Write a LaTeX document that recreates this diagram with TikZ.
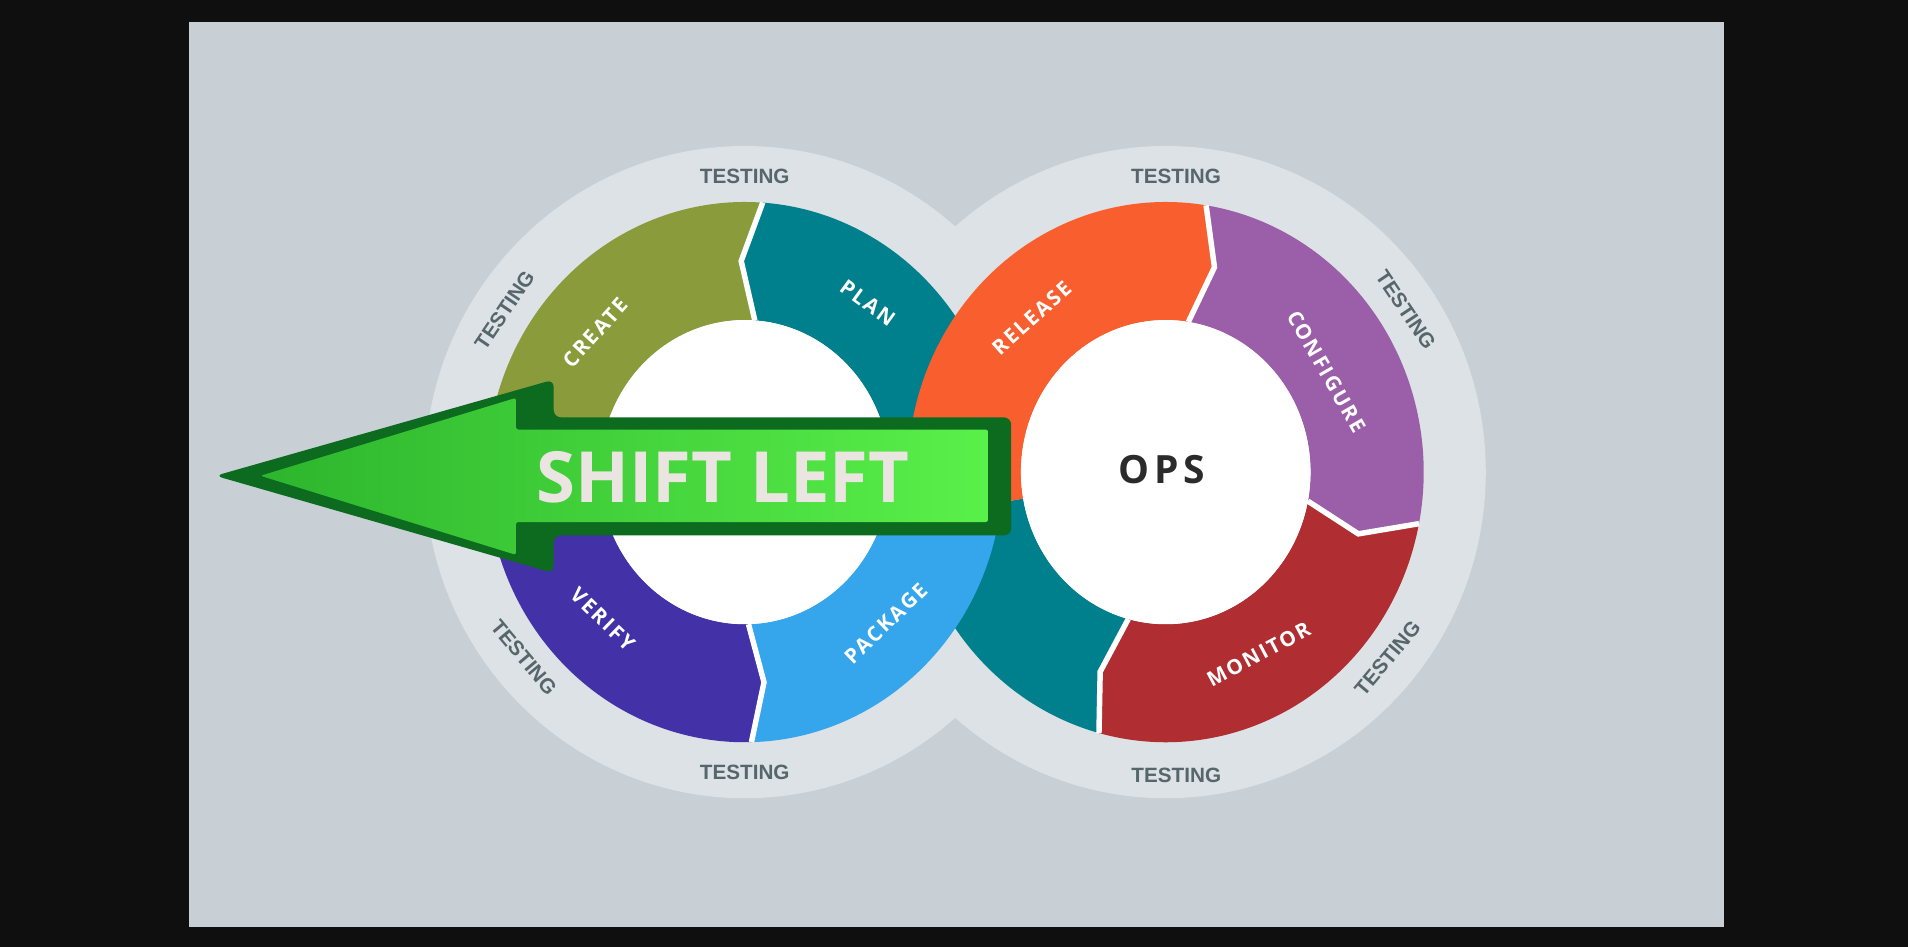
\documentclass[tikz,border=0pt]{standalone}
\usepackage{fontspec}
\usetikzlibrary{calc}
\setmainfont{Liberation Sans}
\newfontfamily\segfont{Open Sans}[LetterSpace=10]
\newfontfamily\opsfont{Open Sans}[LetterSpace=12]
\newfontfamily\bigfont{Open Sans}
\definecolor{frame}{HTML}{0F0F0F}
\definecolor{panel}{HTML}{C8D0D6}
\definecolor{ringgray}{HTML}{DCE2E5}
\definecolor{olive}{HTML}{8A9B3B}
\definecolor{teal}{HTML}{00808D}
\definecolor{verify}{HTML}{4331A8}
\definecolor{package}{HTML}{35A5EC}
\definecolor{release}{HTML}{F95F2E}
\definecolor{configure}{HTML}{9B5EA9}
\definecolor{monitor}{HTML}{B02E32}
\definecolor{testtext}{HTML}{56666B}
\definecolor{opstext}{HTML}{2B2B2B}
\definecolor{shifttext}{HTML}{EAE5E0}
\definecolor{arrowdark}{HTML}{0C6B1F}
\definecolor{arrowlo}{HTML}{2DB52D}
\definecolor{arrowhi}{HTML}{5AF04A}
\newcommand{\rOut}{212 and 222}
\newcommand{\rIn}{119 and 125}
\newcommand{\rMid}{165.5 and 173.5}
% #1 colour, #2 centre, #3 start angle, #4 its notch, #5 end angle, #6 its notch
\newcommand{\ringseg}[6]{%
  \fill[#1] ($(#2)+(#3:\rOut)$)
    arc[start angle=#3, end angle=#5, x radius=212, y radius=222]
    -- ($(#2)+({#5+(#6)}:\rMid)$) -- ($(#2)+(#5:\rIn)$)
    arc[start angle=#5, end angle=#3, x radius=119, y radius=125]
    -- ($(#2)+({#3+(#4)}:\rMid)$) -- cycle;}
\newcommand{\ringcut}[3]{%
  \draw[white, line width=4.5, line join=miter] ($(#1)+(#2:\rIn)$)
    -- ($(#1)+({#2+(#3)}:\rMid)$) -- ($(#1)+(#2:\rOut)$);}
\begin{document}
\begin{tikzpicture}[x=1pt, y=1pt,
    testlbl/.style={text=testtext, inner sep=0,
      font=\bfseries\fontsize{17}{17}\selectfont},
    seglbl/.style={text=white, inner sep=0,
      font=\segfont\bfseries\fontsize{17}{17}\selectfont}]
\useasboundingbox (0,0) rectangle (1568,778);
\fill[frame] (0,0) rectangle (1568,778);
\fill[panel] (155,16) rectangle (1417,760);
\coordinate (L) at (612,390);
\coordinate (R) at (958,390);
\fill[ringgray] (L) ellipse[x radius=263, y radius=268];
\fill[ringgray] (R) ellipse[x radius=263, y radius=268];
\ringseg{teal}{L}{0}{0}{86}{5}
\ringseg{teal}{R}{190}{0}{255}{-4}
\ringseg{olive}{L}{86}{5}{180}{0}
\ringseg{verify}{L}{180}{0}{271.5}{4}
\ringseg{release}{R}{81}{-5}{190}{0}
\ringseg{configure}{R}{-11}{-6}{81}{-5}
\ringseg{monitor}{R}{-105}{-4}{-11}{-6}
\ringseg{package}{L}{271.5}{4}{360}{0}
\fill[white] (L) ellipse[x radius=119, y radius=125];
\fill[white] (R) ellipse[x radius=119, y radius=125];
\ringcut{L}{86}{5}
\ringcut{L}{271.5}{4}
\ringcut{R}{81}{-5}
\ringcut{R}{-11}{-6}
\ringcut{R}{-105}{-4}
\foreach \c/\a/\r/\rot [count=\i] in {L/90/243/0, L/146/238/56, L/220/237/-50,
    L/270/247/0, R/88/243/0, R/34/238/-56, R/320/238/50, R/272/249/0}
  \node[testlbl, rotate=\rot] (test\i) at ($(\c)+(\a:\r)$) {TESTING};
\node[seglbl, rotate=48] (create) at ($(L)+(137:168)$) {CREATE};
\node[seglbl, rotate=-36] (plan) at ($(L)+(54:172)$) {PLAN};
\node[seglbl, rotate=-44] (verify) at ($(L)+(226:168)$) {VERIFY};
\node[seglbl, rotate=44] (package) at ($(L)+(-47:170)$) {PACKAGE};
\node[seglbl, rotate=42] (release) at ($(R)+(131:168)$) {RELEASE};
\node[seglbl, rotate=-60] (configure) at ($(R)+(32:156)$) {CONFIGURE};
\node[seglbl, rotate=28] (monitor) at ($(R)+(-63:168)$) {MONITOR};
\node[text=opstext, inner sep=0, font=\opsfont\bfseries\fontsize{32}{32}\selectfont]
  (ops) at (955,392) {OPS};
\fill[arrowdark, rounded corners=6] (177,387) -- (455,466) -- (455,435) -- (831,435)
  -- (831,338) -- (455,338) -- (455,307) -- cycle;
\shade[left color=arrowlo, right color=arrowhi, rounded corners=2] (214,387) -- (424,451)
  -- (424,425) -- (812,425) -- (812,349) -- (424,349) -- (424,322) -- cycle;
\node[text=shifttext, inner sep=0, font=\bigfont\bfseries\fontsize{58}{58}\selectfont]
  (shift) at (594,386) {SHIFT LEFT};
\end{tikzpicture}
\end{document}
